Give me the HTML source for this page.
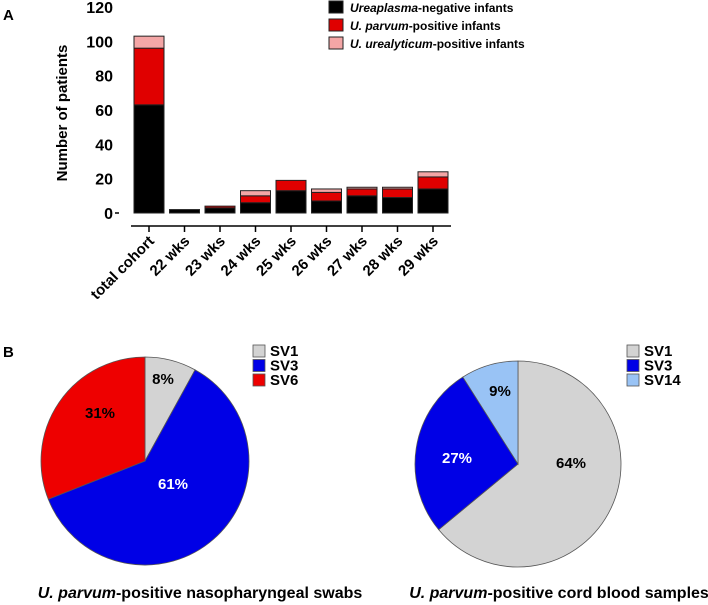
<!DOCTYPE html>
<html><head><meta charset="utf-8"><style>
body{margin:0;background:#fff}
svg{display:block;font-family:"Liberation Sans",Arial,sans-serif;font-weight:bold}
</style></head><body>
<svg id="fig" width="708" height="605" viewBox="0 0 708 605" xmlns="http://www.w3.org/2000/svg">
<text x="3" y="20" font-size="15">A</text>
<text x="3" y="357" font-size="15">B</text>
<g id="bars"></g>
<g id="pies"></g>
</svg>
<script>
const categories=["total cohort","22 wks","23 wks","24 wks","25 wks","26 wks","27 wks","28 wks","29 wks"];
const negVals=[63,2,3,6,13,7,10,9,14];
const parvumVals=[33,0,1,4,6,5,4,5,7];
const urealVals=[7,0,0,3,0,2,1,1,3];
const yTicks=[0,20,40,60,80,100,120];
const pie1Labels=["SV1","SV3","SV6"];
const pie1Vals=[8,61,31];
const pie2Labels=["SV1","SV3","SV14"];
const pie2Vals=[64,27,9];

const NS="http://www.w3.org/2000/svg";
function mk(tag,attrs,parent){const e=document.createElementNS(NS,tag);for(const k in attrs)e.setAttribute(k,attrs[k]);parent.appendChild(e);return e;}
const g=document.getElementById('bars');
const y0=213,pxPer=1.717;
const yS=v=>y0-v*pxPer;
const xS=i=>149+i*35.5;
const bw=30;
yTicks.forEach(t=>{const e=mk('text',{x:113,y:yS(t)+6,'font-size':16,'text-anchor':'end'},g);e.textContent=t;

});
mk('line',{x1:115,x2:119,y1:y0,y2:y0,stroke:'#000','stroke-width':1.5},g);
const yt=mk('text',{x:0,y:0,'font-size':15,'text-anchor':'middle',transform:'translate(67,113) rotate(-90)'},g);
yt.textContent='Number of patients';


const ax=mk('line',{x1:131,x2:451,y1:226,y2:226,stroke:'#000','stroke-width':1.5},g);


categories.forEach((c,i)=>{
  const x=xS(i);
  mk('line',{x1:x,x2:x,y1:226,y2:232,stroke:'#000','stroke-width':1.5},g);
  const segs=[[negVals[i],'#000','bar-negative'],[parvumVals[i],'#e00000','bar-parvum'],[urealVals[i],'#f4a6a6','bar-urealyticum']];
  let base=0;
  segs.forEach(s=>{if(s[0]<=0)return;
    const r=mk('rect',{x:x-bw/2,y:yS(base+s[0]),width:bw,height:s[0]*pxPer,fill:s[1],stroke:'#222','stroke-width':1},g);
    
    
    base+=s[0];});
  const t=mk('text',{x:0,y:0,'font-size':15,'text-anchor':'end',transform:`translate(${x+6},${242}) rotate(-45)`},g);
  t.textContent=c;
  
  
});
const leg=[['#000',['Ureaplasma','-negative infants']],['#e00000',['U. parvum','-positive infants']],['#f4a6a6',['U. urealyticum','-positive infants']]];
leg.forEach((l,i)=>{const yy=7+i*18;
  const r=mk('rect',{x:329,y:yy-6,width:14,height:12,fill:l[0],stroke:'#222','stroke-width':1},g);
  
  
  const t=mk('text',{x:350,y:yy+5,'font-size':12},g);
  
  
  const a=mk('tspan',{'font-style':'italic'},t);a.textContent=l[1][0];
  const b=mk('tspan',{},t);b.textContent=l[1][1];
});

const pg=document.getElementById('pies');
function pie(cx,cy,r,vals,labels,colors,txtCols,lblOff,lx,caption,capX,name){
  const tot=vals.reduce((a,b)=>a+b,0);let a0=0;
  vals.forEach((v,i)=>{const a1=a0+v/tot*2*Math.PI;
    const p=(a)=>[cx+r*Math.sin(a),cy-r*Math.cos(a)];
    const [x0,y0_]=p(a0),[x1,y1]=p(a1);
    const large=(a1-a0)>Math.PI?1:0;
    const s=mk('path',{d:`M${cx},${cy}L${x0},${y0_}A${r},${r} 0 ${large} 1 ${x1},${y1}Z`,fill:colors[i],stroke:'#555','stroke-width':0.8},pg);
    
    
    const t=mk('text',{x:cx+lblOff[i][0],y:cy+lblOff[i][1]+5,'font-size':15,'text-anchor':'middle',fill:txtCols[i]},pg);
    t.textContent=v+'%';
    
    
    a0=a1;});
  labels.forEach((l,i)=>{const yy=351+i*14.5;
    const r2=mk('rect',{x:lx,y:yy-6,width:12,height:12,fill:colors[i],stroke:'#555','stroke-width':0.8},pg);
    
    
    const t=mk('text',{x:lx+17,y:yy+5,'font-size':15},pg);t.textContent=l;
    
    });
  const c=mk('text',{x:capX,y:598,'font-size':16,'text-anchor':'middle'},pg);
  
  
  const a=mk('tspan',{'font-style':'italic'},c);a.textContent='U. parvum';
  const b=mk('tspan',{},c);b.textContent=caption;
}
pie(145,461,104,pie1Vals,pie1Labels,['#d3d3d3','#0000e6','#ee0000'],['#000','#fff','#000'],[[18,-82],[28,23],[-45,-48]],253,'-positive nasopharyngeal swabs',200,'pie-nasopharyngeal');
pie(518,464,103,pie2Vals,pie2Labels,['#d3d3d3','#0000e6','#99c3f5'],['#000','#fff','#000'],[[53,-1],[-61,-6],[-18,-73]],627,'-positive cord blood samples',559,'pie-cord-blood');
</script>
</body></html>
